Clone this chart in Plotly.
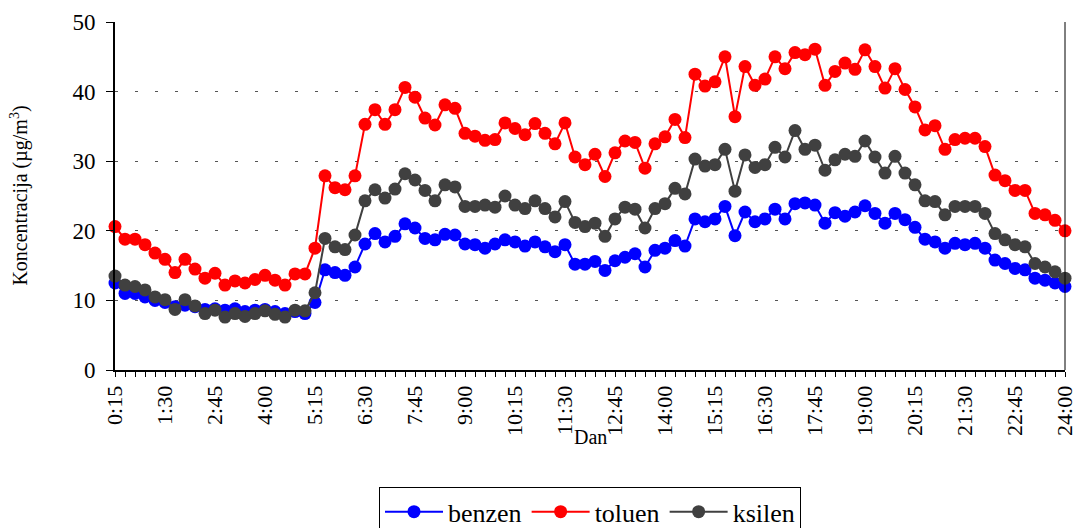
import plotly.graph_objects as go

times = ["0:15","0:30","0:45","1:00","1:15","1:30","1:45","2:00","2:15","2:30","2:45","3:00",
         "3:15","3:30","3:45","4:00","4:15","4:30","4:45","5:00","5:15","5:30","5:45","6:00",
         "6:15","6:30","6:45","7:00","7:15","7:30","7:45","8:00","8:15","8:30","8:45","9:00",
         "9:15","9:30","9:45","10:00","10:15","10:30","10:45","11:00","11:15","11:30","11:45","12:00",
         "12:15","12:30","12:45","13:00","13:15","13:30","13:45","14:00","14:15","14:30","14:45","15:00",
         "15:15","15:30","15:45","16:00","16:15","16:30","16:45","17:00","17:15","17:30","17:45","18:00",
         "18:15","18:30","18:45","19:00","19:15","19:30","19:45","20:00","20:15","20:30","20:45","21:00",
         "21:15","21:30","21:45","22:00","22:15","22:30","22:45","23:00","23:15","23:30","23:45","24:00"]

benzen = [12.5, 11.0, 11.0, 10.5, 10.0, 9.7, 9.1, 9.3, 9.1, 8.7, 8.8, 8.6,
          8.8, 8.4, 8.6, 8.7, 8.4, 8.1, 8.4, 8.1, 9.7, 14.4, 14.0, 13.6,
          14.8, 18.1, 19.6, 18.4, 19.2, 21.0, 20.4, 18.9, 18.7, 19.5, 19.4, 18.1,
          18.0, 17.5, 18.1, 18.7, 18.4, 17.8, 18.4, 17.7, 17.0, 18.0, 15.2, 15.2,
          15.6, 14.3, 15.7, 16.2, 16.7, 14.8, 17.2, 17.5, 18.6, 17.8, 21.7, 21.3,
          21.7, 23.5, 19.3, 22.7, 21.3, 21.7, 23.1, 21.7, 23.9, 24.0, 23.7, 21.1,
          22.6, 22.1, 22.7, 23.6, 22.5, 21.1, 22.5, 21.6, 20.5, 18.8, 18.4, 17.5,
          18.2, 18.0, 18.2, 17.5, 15.8, 15.3, 14.6, 14.4, 13.2, 12.9, 12.5, 12.0]

toluen = [20.6, 18.8, 18.8, 18.0, 16.8, 15.9, 14.0, 15.9, 14.5, 13.2, 13.9, 12.2,
          12.8, 12.5, 13.0, 13.6, 12.9, 12.2, 13.8, 13.8, 17.5, 27.9, 26.2, 25.9,
          27.9, 35.3, 37.4, 35.3, 37.4, 40.6, 39.2, 36.2, 35.2, 38.1, 37.6, 34.0,
          33.6, 33.0, 33.1, 35.5, 34.7, 33.8, 35.4, 34.0, 32.5, 35.5, 30.6, 29.5,
          31.0, 27.8, 31.2, 32.9, 32.7, 29.0, 32.5, 33.5, 36.0, 33.4, 42.5, 40.8,
          41.4, 45.0, 36.4, 43.6, 40.9, 41.8, 45.0, 43.3, 45.6, 45.3, 46.1, 40.9,
          42.9, 44.1, 43.2, 46.0, 43.6, 40.5, 43.3, 40.3, 37.8, 34.5, 35.1, 31.7,
          33.1, 33.3, 33.3, 32.1, 28.0, 27.2, 25.8, 25.8, 22.5, 22.3, 21.5, 20.0]

ksilen = [13.5, 12.2, 12.0, 11.5, 10.5, 10.1, 8.7, 10.1, 9.2, 8.1, 8.6, 7.6,
          8.1, 7.7, 8.1, 8.5, 8.0, 7.6, 8.6, 8.5, 11.1, 18.9, 17.7, 17.3,
          19.4, 24.3, 25.9, 24.7, 26.0, 28.2, 27.3, 25.8, 24.3, 26.6, 26.3, 23.5,
          23.5, 23.7, 23.4, 25.0, 23.7, 23.2, 24.3, 23.2, 22.0, 24.2, 21.2, 20.6,
          21.1, 19.2, 21.7, 23.4, 23.1, 20.4, 23.2, 23.9, 26.1, 25.3, 30.3, 29.3,
          29.5, 31.7, 25.7, 30.9, 29.1, 29.5, 32.0, 30.6, 34.4, 31.7, 32.3, 28.7,
          30.2, 31.0, 30.7, 32.9, 30.6, 28.3, 30.7, 28.3, 26.6, 24.3, 24.2, 22.3,
          23.5, 23.5, 23.5, 22.5, 19.6, 18.7, 18.0, 17.7, 15.3, 14.8, 14.1, 13.2]

series = [("benzen", benzen, "#0000FF"),
          ("toluen", toluen, "#FF0000"),
          ("ksilen", ksilen, "#404040")]

FONT = "Liberation Serif, Times New Roman, serif"

fig = go.Figure()
for name, vals, col in series:
    fig.add_trace(go.Scatter(
        x=times, y=vals, name=name, mode="lines+markers",
        line=dict(color=col, width=2),
        marker=dict(color=col, size=13, symbol="circle"),
        cliponaxis=False,
    ))

fig.update_layout(
    width=1077, height=528,
    margin=dict(l=115, r=12, t=22, b=158, autoexpand=False),
    paper_bgcolor="white", plot_bgcolor="white",
    font=dict(family=FONT, color="black"),
    showlegend=True,
    legend=dict(
        orientation="h", x=0.5, xanchor="center", y=-0.337, yanchor="top",
        font=dict(family=FONT, size=26, color="black"),
        bordercolor="black", borderwidth=1, bgcolor="white",
        itemwidth=58, tracegroupgap=0,
    ),
    xaxis=dict(
        type="category", range=[0, 95],
        tickmode="linear", tick0=0, dtick=1, ticklabelstep=5,
        tickangle=-90, ticks="outside", ticklen=5, tickwidth=1, tickcolor="black",
        tickfont=dict(family=FONT, size=22, color="black"),
        showline=True, linecolor="black", linewidth=2,
        showgrid=False, zeroline=False, automargin=False,
    ),
    yaxis=dict(
        range=[0, 50], tickmode="linear", tick0=0, dtick=10,
        ticks="outside", ticklen=7, tickwidth=1, tickcolor="black",
        ticklabelstandoff=6,
        tickfont=dict(family=FONT, size=23, color="black"),
        showline=True, linecolor="black", linewidth=2,
        showgrid=True, gridcolor="#555555", gridwidth=1, griddash="3px,17px",
        zeroline=False, automargin=False,
    ),
    shapes=[dict(type="line", xref="paper", yref="paper", x0=1, x1=1, y0=0, y1=1,
                 line=dict(color="black", width=1))],
    annotations=[
        dict(text="Dan", xref="paper", yref="paper", x=0.5, y=-0.193,
             xanchor="center", yanchor="middle", showarrow=False,
             font=dict(family=FONT, size=20, color="black")),
        dict(text="Koncentracija (µg/m<sup>3</sup>)", xref="paper", yref="paper",
             x=-0.1015, y=0.5, xanchor="center", yanchor="middle", textangle=-90,
             showarrow=False, font=dict(family=FONT, size=20, color="black")),
    ],
)

fig.write_html("out.html",
               config={"displayModeBar": False},
               post_script="document.body.style.margin='0';document.body.style.overflow='hidden';")
